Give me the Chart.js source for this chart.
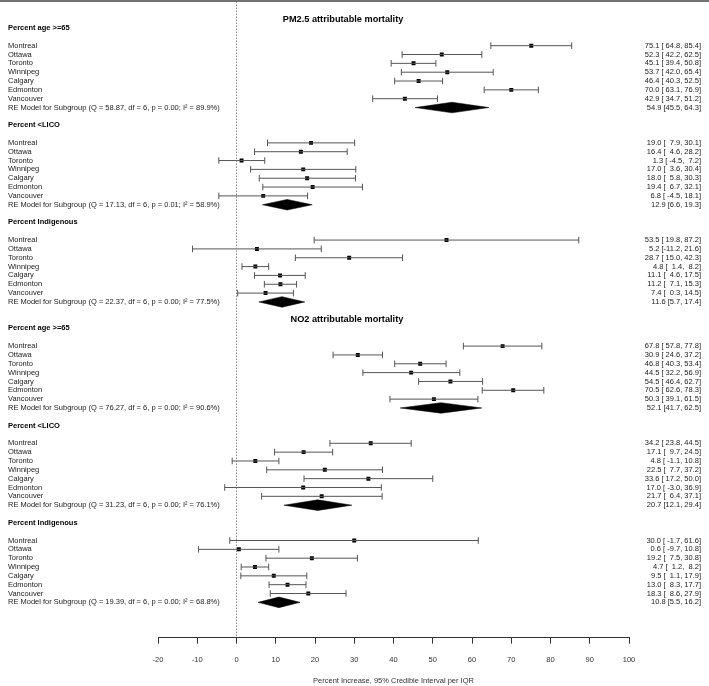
<!DOCTYPE html>
<html>
<head>
<meta charset="utf-8">
<script src="https://cdn.jsdelivr.net/npm/chart.js@4"></script>
<style>
  html, body { margin: 0; padding: 0; background: #fff; }
  canvas { display: block; }
</style>
</head>
<body>
<canvas id="c" width="709" height="686"></canvas>
<script>
// ---------- data ----------
const titles = ["PM2.5 attributable mortality", "NO2 attributable mortality"];
const subgroupNames = ["Percent age >=65", "Percent <LICO", "Percent Indigenous",
                       "Percent age >=65", "Percent <LICO", "Percent Indigenous"];
const cities = ["Montreal", "Ottawa", "Toronto", "Winnipeg", "Calgary", "Edmonton", "Vancouver"];

// estimates per subgroup (7 cities each)
const est = [
  [75.1, 52.3, 45.1, 53.7, 46.4, 70.0, 42.9],
  [19.0, 16.4, 1.3, 17.0, 18.0, 19.4, 6.8],
  [53.5, 5.2, 28.7, 4.8, 11.1, 11.2, 7.4],
  [67.8, 30.9, 46.8, 44.5, 54.5, 70.5, 50.3],
  [34.2, 17.1, 4.8, 22.5, 33.6, 17.0, 21.7],
  [30.0, 0.6, 19.2, 4.7, 9.5, 13.0, 18.3]
];
const lower = [
  [64.8, 42.2, 39.4, 42.0, 40.3, 63.1, 34.7],
  [7.9, 4.6, -4.5, 3.6, 5.8, 6.7, -4.5],
  [19.8, -11.2, 15.0, 1.4, 4.6, 7.1, 0.3],
  [57.8, 24.6, 40.3, 32.2, 46.4, 62.6, 39.1],
  [23.8, 9.7, -1.1, 7.7, 17.2, -3.0, 6.4],
  [-1.7, -9.7, 7.5, 1.2, 1.1, 8.3, 8.6]
];
const upper = [
  [85.4, 62.5, 50.8, 65.4, 52.5, 76.9, 51.2],
  [30.1, 28.2, 7.2, 30.4, 30.3, 32.1, 18.1],
  [87.2, 21.6, 42.3, 8.2, 17.5, 15.3, 14.5],
  [77.8, 37.2, 53.4, 56.9, 62.7, 78.3, 61.5],
  [44.5, 24.5, 10.8, 37.2, 50.0, 36.9, 37.1],
  [61.6, 10.8, 30.8, 8.2, 17.9, 17.7, 27.9]
];
// random-effects summaries
const reEst   = [54.9, 12.9, 11.6, 52.1, 20.7, 10.8];
const reLower = [45.5, 6.6, 5.7, 41.7, 12.1, 5.5];
const reUpper = [64.3, 19.3, 17.4, 62.5, 29.4, 16.2];
const reQ     = ["58.87", "17.13", "22.37", "76.27", "31.23", "19.39"];
const reP     = ["0.00", "0.01", "0.00", "0.00", "0.00", "0.00"];
const reI2    = ["89.9", "58.9", "77.5", "90.6", "76.1", "68.8"];
const xTicks  = [-20, -10, 0, 10, 20, 30, 40, 50, 60, 70, 80, 90, 100];
const xTitle  = "Percent Increase, 95% Credible Interval per IQR";

// ---------- row layout ----------
const headerRows = [1, 12, 23, 35, 46, 57];
const titleRows = [0, 34];
const Y_MIN = -2, Y_MAX = 70;
const DIAMOND_H = 0.6;

const GRAY = "#555";
const TXT = "#222";
const FONT = "Liberation Sans, Arial, Helvetica, sans-serif";

const datasets = [];
// zero reference line
datasets.push({
  type: "line", data: [{x: 0, y: Y_MIN}, {x: 0, y: Y_MAX}],
  borderColor: "#888", borderWidth: 1, borderDash: [1.5, 1.5],
  pointRadius: 0, fill: false
});
// CI lines with caps
const estPts = [];
for (let g = 0; g < 6; g++) {
  for (let i = 0; i < 7; i++) {
    const r = headerRows[g] + 2 + i;
    datasets.push({
      type: "line",
      data: [{x: lower[g][i], y: r}, {x: upper[g][i], y: r}],
      borderColor: GRAY, borderWidth: 1,
      pointStyle: "line", rotation: 90, pointRadius: 3.3,
      pointBorderColor: GRAY, pointBorderWidth: 1, fill: false
    });
    estPts.push({x: est[g][i], y: r});
  }
}
// point estimates
datasets.push({
  type: "scatter", data: estPts,
  pointStyle: "rect", pointRadius: 2.8,
  backgroundColor: "#000", borderColor: "#000", borderWidth: 0
});
// summary diamonds
for (let g = 0; g < 6; g++) {
  const r = headerRows[g] + 9;
  datasets.push({
    type: "line",
    data: [{x: reLower[g], y: r}, {x: reEst[g], y: r - DIAMOND_H},
           {x: reUpper[g], y: r}, {x: reEst[g], y: r + DIAMOND_H},
           {x: reLower[g], y: r}],
    borderColor: "#000", borderWidth: 0.5, backgroundColor: "#000",
    pointRadius: 0, fill: "shape", tension: 0
  });
}

function pad(s, n) { while (s.length < n) s = " " + s; return s; }
function fmt(v) { return v.toFixed(1); }

const textPlugin = {
  id: "forestText",
  beforeDraw(chart) {
    const ctx = chart.ctx;
    ctx.save();
    ctx.fillStyle = "#fff";
    ctx.fillRect(0, 0, chart.width, chart.height);
    ctx.strokeStyle = "#444";
    ctx.lineWidth = 1.5;
    ctx.beginPath(); ctx.moveTo(0, 1); ctx.lineTo(chart.width, 1); ctx.stroke();
    ctx.restore();
  },
  afterDraw(chart) {
    const ctx = chart.ctx, ys = chart.scales.y, xs = chart.scales.x;
    ctx.save();
    ctx.textBaseline = "middle";
    ctx.fillStyle = "#000";
    // titles
    ctx.font = "bold 9.2px " + FONT;
    ctx.textAlign = "right";
    titleRows.forEach((r, k) => ctx.fillText(titles[k], xs.getPixelForValue(42.5), ys.getPixelForValue(r)));
    for (let g = 0; g < 6; g++) {
      const h = headerRows[g];
      ctx.textAlign = "left";
      ctx.fillStyle = "#000";
      ctx.font = "bold 7.5px " + FONT;
      ctx.fillText(subgroupNames[g], 8, ys.getPixelForValue(h));
      ctx.fillStyle = TXT;
      ctx.font = "7.5px " + FONT;
      for (let i = 0; i < 7; i++) {
        const y = ys.getPixelForValue(h + 2 + i);
        ctx.textAlign = "left";
        ctx.fillText(cities[i], 8, y);
        ctx.textAlign = "right";
        ctx.fillText(fmt(est[g][i]) + " [" + pad(fmt(lower[g][i]), 5) + ", " + pad(fmt(upper[g][i]), 4) + "]", 701, y);
      }
      const yr = ys.getPixelForValue(h + 9);
      ctx.textAlign = "left";
      ctx.fillText("RE Model for Subgroup (Q = " + reQ[g] + ", df = 6, p = " + reP[g] + "; I\u00B2 = " + reI2[g] + "%)", 8, yr);
      ctx.textAlign = "right";
      ctx.fillText(fmt(reEst[g]) + " [" + fmt(reLower[g]) + ", " + fmt(reUpper[g]) + "]", 701, yr);
    }
    ctx.restore();
  }
};

new Chart(document.getElementById("c"), {
  type: "scatter",
  data: { datasets },
  options: {
    responsive: false,
    animation: false,
    events: [],
    layout: { autoPadding: false, padding: { left: 158, right: 80, top: 1.5, bottom: 0 } },
    plugins: { legend: { display: false }, tooltip: { enabled: false } },
    scales: {
      x: {
        type: "linear", min: -20, max: 100,
        afterBuildTicks: (s) => { s.ticks = xTicks.map(v => ({value: v})); },
        border: { display: true, color: "#333", width: 1 },
        grid: { drawOnChartArea: false, drawTicks: true, tickLength: 6, color: "#333" },
        ticks: { color: "#333", padding: 12, font: { size: 7.5, family: FONT }, maxRotation: 0, autoSkip: false },
        title: { display: true, text: xTitle, color: "#333", font: { size: 7.5, family: FONT }, padding: { top: 0, bottom: 0.3 } }
      },
      y: {
        type: "linear", min: Y_MIN, max: Y_MAX, reverse: true, display: false
      }
    }
  },
  plugins: [textPlugin]
});
</script>
</body>
</html>
